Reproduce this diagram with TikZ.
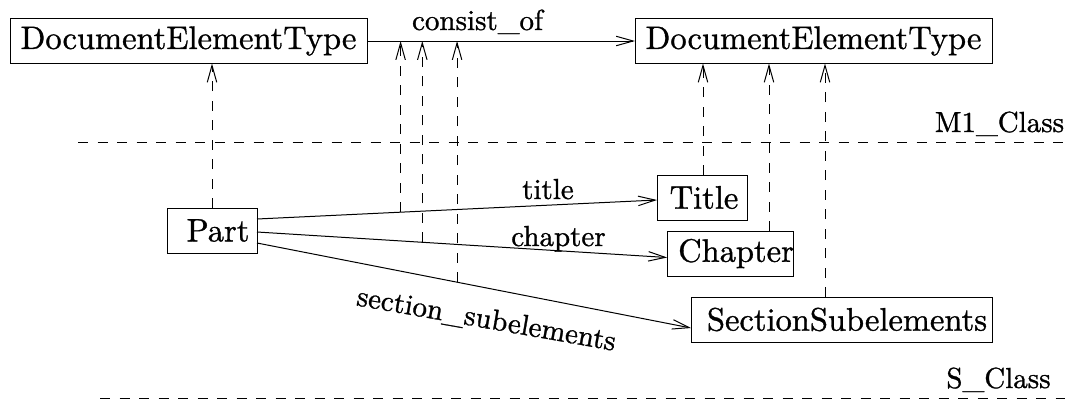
\documentclass[tikz,border=0pt]{standalone}
\usepackage{fontspec}
\setmainfont{lmroman10-regular}[Extension=.otf,FakeBold=1]
\usetikzlibrary{arrows.meta,calc}

\begin{document}
\begin{tikzpicture}[x=1pt,y=-1pt,
  every node/.style={inner sep=0pt,outer sep=0pt},
  classbox/.style={draw,line width=1pt,minimum height=45pt,
    font=\fontsize{32.5}{38}\selectfont},
  lbl/.style={font=\fontsize{29}{34}\selectfont},
  assoc/.style={line width=1pt,-{Straight Barb[length=17pt,width=9.5pt]}},
  inst/.style={line width=1pt,dash pattern=on 10pt off 9.5pt,
    -{Straight Barb[length=17pt,width=9.5pt]}},
  level/.style={line width=1pt,dash pattern=on 10pt off 9.5pt}]

\useasboundingbox (0,0) rectangle (1065,400);

% meta level classes
\node[classbox,minimum width=357pt] (det1) at (188.5,41) {DocumentElementType};
\node[classbox,minimum width=357pt] (det2) at (813.5,41) {DocumentElementType};
\draw[assoc] (det1.east) -- (det2.west);
\node[lbl,anchor=base] (consist) at (477.5,30) {consist\_of};

% level separators
\coordinate (m1a) at (78,142);
\coordinate (m1b) at (1065,142);
\draw[level] (m1a) -- (m1b);
\node[lbl,anchor=base] (m1lbl) at (999.5,132) {M1\_Class};

\coordinate (sa) at (100,398);
\coordinate (sb) at (1065,398);
\draw[level] (sa) -- (sb);
\node[lbl,anchor=base] (slbl) at (998.5,388) {S\_Class};

% model level classes
\node[classbox,minimum width=90pt] (part) at (212,230.5) {\hspace*{12pt}Part};
\node[classbox,minimum width=90pt] (title) at (702,197.5) {\hspace*{4pt}Title};
\node[classbox,minimum width=123pt] (chapter) at (730.5,253.5) {\hspace*{11pt}Chapter};
\node[classbox,minimum width=301pt] (secsub) at (841.5,319.5) {\hspace*{11pt}SectionSubelements};

% associations with their instance-of links to consist_of
\draw[assoc] ([yshift=11.5pt]part.east) -- coordinate[pos=0.359] (ta)
  ([yshift=-2.5pt]title.west);
\draw[assoc] ([yshift=-1.5pt]part.east) -- coordinate[pos=0.403] (ca)
  ([yshift=-4pt]chapter.west);
\draw[assoc] ([yshift=-12.5pt]part.east) -- coordinate[pos=0.461] (sa2)
  ([yshift=-8.5pt]secsub.west);

\node[lbl,anchor=base] (ltitle) at (548,199) {title};
\node[lbl,anchor=base] (lchapter) at (558.5,246) {chapter};
\node[lbl,anchor=base,rotate=-10] (lsec) at (485,328) {section\_subelements};

\draw[inst] (ta) -- (ta |- det1.east);
\draw[inst] (ca) -- (ca |- det1.east);
\draw[inst] (sa2) -- (sa2 |- det1.east);

% class instance-of links
\draw[inst] (part.north) -- (part.north |- det1.south);
\draw[inst] ([xshift=1pt]title.north) -- ([xshift=1pt]title.north |- det2.south);
\draw[inst] ([xshift=38.5pt]chapter.north) -- ([xshift=38.5pt]chapter.north |- det2.south);
\draw[inst] ([xshift=-16.5pt]secsub.north) -- ([xshift=-16.5pt]secsub.north |- det2.south);

\end{tikzpicture}
\end{document}
